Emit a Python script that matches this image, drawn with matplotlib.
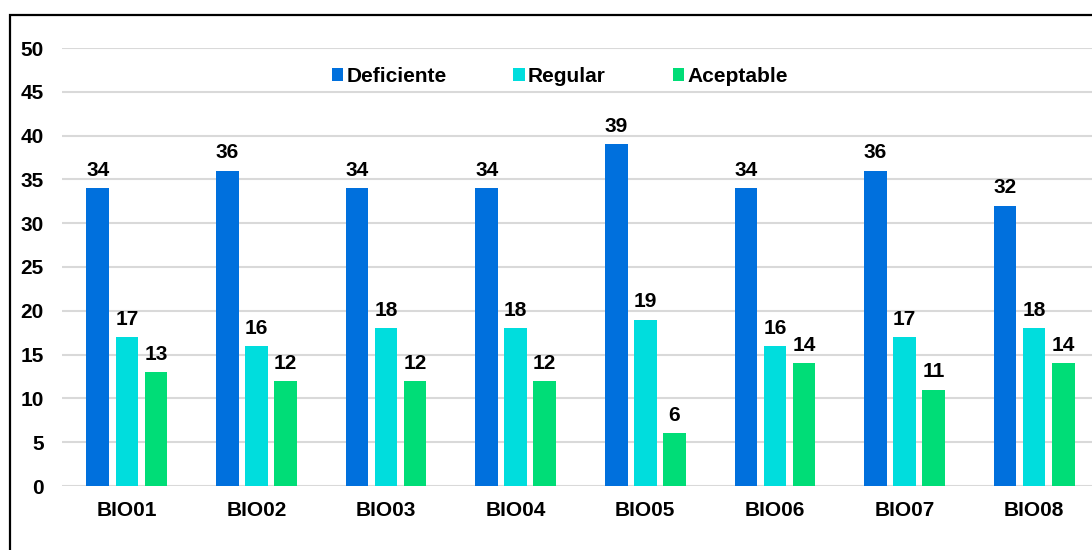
import matplotlib
matplotlib.use("Agg")
import matplotlib.pyplot as plt
import numpy as np
from matplotlib.patches import Patch, Rectangle

plt.rcParams['font.family'] = ['Liberation Sans', 'DejaVu Sans']
plt.rcParams['font.weight'] = 'bold'

categorias = ['BIO01', 'BIO02', 'BIO03', 'BIO04', 'BIO05', 'BIO06', 'BIO07', 'BIO08']
deficiente = [34, 36, 34, 34, 39, 34, 36, 32]
regular = [17, 16, 18, 18, 19, 16, 17, 18]
aceptable = [13, 12, 12, 12, 6, 14, 11, 14]

series = [('Deficiente', deficiente, '#0070DD'),
          ('Regular', regular, '#00DDDD'),
          ('Aceptable', aceptable, '#00DD77')]

fs = 15

fig = plt.figure(figsize=(10.92, 5.5), dpi=100)
# marco negro del grafico
fig.patches.append(Rectangle((10 / 1092, -0.1), 1.2, 535 / 550 + 0.1,
                             transform=fig.transFigure, fill=False,
                             edgecolor='black', linewidth=1.6))
ax = fig.add_axes([62 / 1092, 64 / 550, 1037 / 1092, 438 / 550])

x = np.arange(len(categorias))
ancho = 0.174
paso = 0.224
for i, (nombre, valores, color) in enumerate(series):
    pos = x + (i - 1) * paso
    barras = ax.bar(pos, valores, ancho, color=color, zorder=2)
    for b, v in zip(barras, valores):
        ax.annotate(str(v), (b.get_x() + b.get_width() / 2, v),
                    xytext=(0, 6), textcoords='offset points',
                    ha='center', va='bottom', fontsize=fs, fontweight='bold')

ax.set_xlim(-0.5, len(categorias) - 0.5)
ax.set_ylim(0, 50)
ax.set_yticks(np.arange(0, 51, 5))
ax.set_xticks(x)
ax.set_xticklabels(categorias)
ax.tick_params(axis='both', length=0, labelsize=fs)
ax.tick_params(axis='x', pad=11)
ax.tick_params(axis='y', pad=13)
ax.yaxis.grid(True, color='#D9D9D9', linewidth=1.5, zorder=0)
ax.set_axisbelow(True)
for s in ax.spines.values():
    s.set_visible(False)

handles = [Patch(facecolor=c, label=n) for n, _, c in series]
ax.legend(handles=handles, loc='center', bbox_to_anchor=(0.48, 0.935),
          ncol=3, frameon=False, handlelength=0.55,
          handleheight=0.55, handletextpad=0.15, columnspacing=3.2,
          prop={'weight': 'bold', 'size': fs})

fig.savefig('out.png', dpi=100, facecolor='white')
